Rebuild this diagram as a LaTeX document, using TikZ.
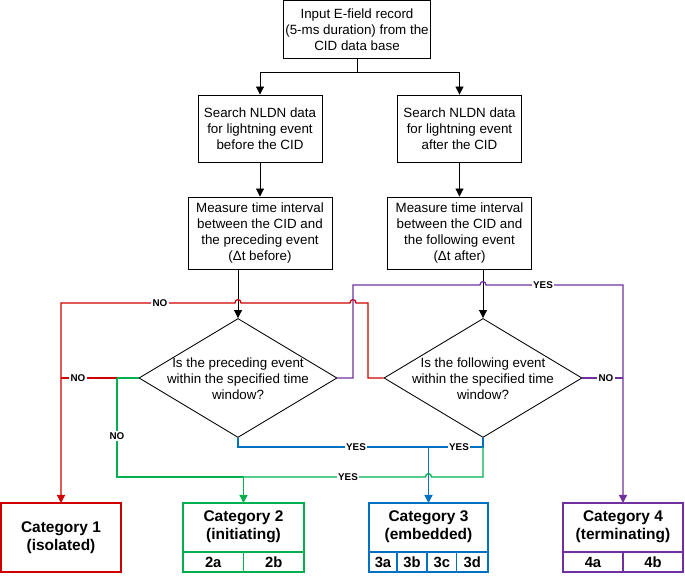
\documentclass[tikz,border=0pt]{standalone}
\usepackage{fontspec}
\setmainfont{Liberation Sans}
\usetikzlibrary{arrows.meta,shapes.geometric,calc}
\definecolor{cred}{RGB}{208,0,0}
\definecolor{cgreen}{RGB}{0,176,80}
\definecolor{cblue}{RGB}{0,112,192}
\definecolor{cpurple}{RGB}{112,48,160}

\begin{document}
\begin{tikzpicture}[x=0.025cm,y=-0.025cm,
    every node/.style={font=\fontsize{9.5}{11.5}\selectfont},
    box/.style={draw,line width=0.6pt,align=center,inner sep=0pt},
    decision/.style={diamond,draw,line width=0.6pt,minimum width=4.95cm,minimum height=2.975cm,inner sep=0pt},
    catbox/.style={draw,line width=0.9pt,minimum width=3cm,minimum height=1.725cm,inner sep=0pt,outer sep=0pt},
    cattext/.style={align=center,font=\bfseries\fontsize{11}{13}\selectfont},
    cell/.style={draw,line width=0.9pt,minimum height=0.5cm,inner sep=0pt,outer sep=0pt,anchor=south west,font=\bfseries\fontsize{10.5}{12}\selectfont},
    tag/.style={fill=white,inner sep=0.8pt,font=\bfseries\fontsize{7}{8}\selectfont},
    arr/.style={-{Triangle[length=2mm,width=2mm]}},
    wire/.style={line width=0.9pt},
    hopr/.style 2 args={insert path={-- (#1-3,#2) .. controls (#1-3,#2-4.5) and (#1+3,#2-4.5) .. (#1+3,#2)}},
    hopl/.style 2 args={insert path={-- (#1+3,#2) .. controls (#1+3,#2-4.5) and (#1-3,#2-4.5) .. (#1-3,#2)}},
  ]
  \useasboundingbox (0,0) rectangle (685,576);

  % boxes
  \node[box,minimum width=3.675cm,minimum height=1.45cm] (input) at (357,29.5) {Input E-field record\\(5-ms duration) from the\\CID data base};
  \node[box,minimum width=3.1cm,minimum height=1.675cm] (searchB) at (260,128.5) {Search NLDN data\\for lightning event\\before the CID};
  \node[box,minimum width=3.1cm,minimum height=1.675cm] (searchA) at (459.5,128.5) {Search NLDN data\\for lightning event\\after the CID};
  \node[box,minimum width=3.6cm,minimum height=1.8cm] (measB) at (260,233) {Measure time interval\\between the CID and\\the preceding event\\(Δt before)};
  \node[box,minimum width=3.6cm,minimum height=1.8cm] (measA) at (459.5,233) {Measure time interval\\between the CID and\\the following event\\(Δt after)};

  \node[decision] (decB) at (238,378) {};
  \node[align=center] (decBtext) at (238,379) {Is the preceding event\\within the specified time\\window?};
  \node[decision] (decA) at (483,378) {};
  \node[align=center] (decAtext) at (483,379) {Is the following event\\within the specified time\\window?};

  % categories
  \node[catbox,cattext,draw=cred] (cat1) at (61,537.5) {Category 1\\(isolated)};
  \node[catbox,draw=cgreen,minimum width=3.025cm] (cat2) at (243.5,537.5) {};
  \node[cattext] (cat2text) at (243.5,527) {Category 2\\(initiating)};
  \node[cell,draw=cgreen,minimum width=1.5125cm] (c2a) at (cat2.south west) {2a};
  \node[cell,draw=cgreen,minimum width=1.5125cm] (c2b) at (c2a.south east) {2b};
  \node[catbox,draw=cblue,minimum width=2.975cm] (cat3) at (428.5,537.5) {};
  \node[cattext] (cat3text) at (428.5,527) {Category 3\\(embedded)};
  \node[cell,draw=cblue,minimum width=0.7cm] (c3a) at (cat3.south west) {3a};
  \node[cell,draw=cblue,minimum width=0.75cm] (c3b) at (c3a.south east) {3b};
  \node[cell,draw=cblue,minimum width=0.7375cm] (c3c) at (c3b.south east) {3c};
  \node[cell,draw=cblue,minimum width=0.7875cm] (c3d) at (c3c.south east) {3d};
  \node[catbox,draw=cpurple] (cat4) at (623,537.5) {};
  \node[cattext] (cat4text) at (623,527) {Category 4\\(terminating)};
  \node[cell,draw=cpurple,minimum width=1.5cm] (c4a) at (cat4.south west) {4a};
  \node[cell,draw=cpurple,minimum width=1.5cm] (c4b) at (c4a.south east) {4b};

  % black flow
  \draw[arr,line width=0.6pt] (input.south) -- ++(0,13) coordinate (split) -| (searchB.north);
  \draw[arr,line width=0.6pt] (split) -| (searchA.north);
  \draw[arr,line width=0.6pt] (searchB.south) -- (measB.north);
  \draw[arr,line width=0.6pt] (searchA.south) -- (measA.north);
  \draw[arr,line width=0.6pt] (measB.south -| decB.north) -- (decB.north);
  \draw[arr,line width=0.6pt] (measA.south -| decA.north) -- (decA.north);

  % NO paths
  \draw[wire,cred,arr] (decA.west) -- (368,378) -- (368,303) [hopl={353}{303}] [hopl={238}{303}] -- (61,303) -- (cat1.north);
  \draw[wire,cgreen] (decB.west) -- (117,378) coordinate (gsplit);
  \draw[wire,cred] (gsplit) -- (61,378);
  \draw[wire,cgreen,arr] (gsplit) -- (117,477) -| (cat2.north);
  \draw[wire,cpurple] (decA.east) -- (cat4.north |- decA.east);

  % YES paths
  \draw[wire,cblue] (decB.south) -- (238,447) -- (483,447) -- (decA.south);
  \draw[wire,cblue,arr] (cat3.north |- 0,447) -- (cat3.north);
  \draw[wire,cgreen] (483,447) -- (483,477) [hopl={428.5}{477}] -- (cat2.north |- 0,477);
  \draw[wire,cpurple,arr] (decB.east) -- (353,378) -- (353,285) [hopr={483}{285}] -- (cat4.north |- 0,285) -- (cat4.north);

  % labels
  \node[tag] (noR1) at (160,303) {NO};
  \node[tag] (noR2) at (78,378) {NO};
  \node[tag] (noG) at (117,436) {NO};
  \node[tag] (noP) at (606,378) {NO};
  \node[tag] (yesB1) at (356,447) {YES};
  \node[tag] (yesB2) at (459,447) {YES};
  \node[tag] (yesG) at (348,477) {YES};
  \node[tag] (yesP) at (543,285) {YES};
\end{tikzpicture}
\end{document}
